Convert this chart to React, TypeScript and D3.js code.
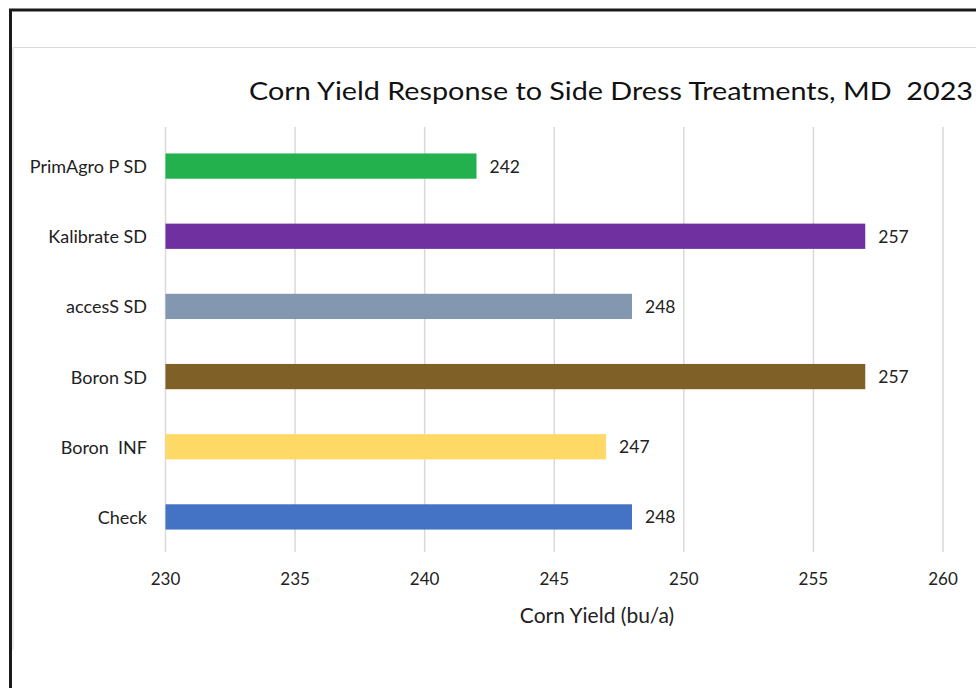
import React from "react";
import * as d3 from "d3";

const categories = ["PrimAgro P SD", "Kalibrate SD", "accesS SD", "Boron SD", "Boron  INF", "Check"];
const values = [242, 257, 248, 257, 247, 248];
const colors = ["#22B14C", "#7030A0", "#8497B0", "#7F6128", "#FFD966", "#4472C4"];
const ticks = [230, 235, 240, 245, 250, 255, 260];
const title = "Corn Yield Response to Side Dress Treatments, MD  2023";
const xTitle = "Corn Yield (bu/a)";

const W = 976;
const H = 688;
const FONT = "Lato, 'Open Sans', sans-serif";
const pre = { whiteSpace: "pre" as const };

export default function App() {
  const x = d3.scaleLinear().domain([230, 260]).range([165.5, 943]);
  const y = d3.scaleBand<string>().domain(categories).range([131, 552]).paddingInner(0.64).paddingOuter(0.32);
  const bh = y.bandwidth();
  return (
    <svg width={W} height={H} style={{ position: "absolute", left: 0, top: 0 }} fontFamily={FONT}>
      <rect x={0} y={0} width={W} height={H} fill="#fff" />
      <path d={`M10.5,${H} V10 H${W}`} fill="none" stroke="#1a1a1a" strokeWidth={3} />
      <path d={`M13,650 V47.5 H${W}`} fill="none" stroke="#d9d9d9" strokeWidth={1} />
      <text x={611} y={90} textAnchor="middle" dominantBaseline="central" fontSize={25} fill="#111" style={pre} textLength={724} lengthAdjust="spacingAndGlyphs">
        {title}
      </text>
      {ticks.map((t) => (
        <g key={t}>
          <line x1={x(t)} x2={x(t)} y1={127} y2={552} stroke="#d9d9d9" strokeWidth={1.5} />
          <text x={x(t)} y={578} textAnchor="middle" dominantBaseline="central" fontSize={17} fill="#222">
            {t}
          </text>
        </g>
      ))}
      {categories.map((c, i) => {
        const yy = y(c)!;
        return (
          <g key={c}>
            <rect x={x(230)} y={yy} width={x(values[i]) - x(230)} height={bh} fill={colors[i]} />
            <text x={147} y={yy + bh / 2} textAnchor="end" dominantBaseline="central" fontSize={18} fill="#222" style={pre}>
              {c}
            </text>
            <text x={x(values[i]) + 13} y={yy + bh / 2} dominantBaseline="central" fontSize={17.5} fill="#222">
              {values[i]}
            </text>
          </g>
        );
      })}
      <text x={597} y={614} textAnchor="middle" dominantBaseline="central" fontSize={21} fill="#222">
        {xTitle}
      </text>
    </svg>
  );
}
